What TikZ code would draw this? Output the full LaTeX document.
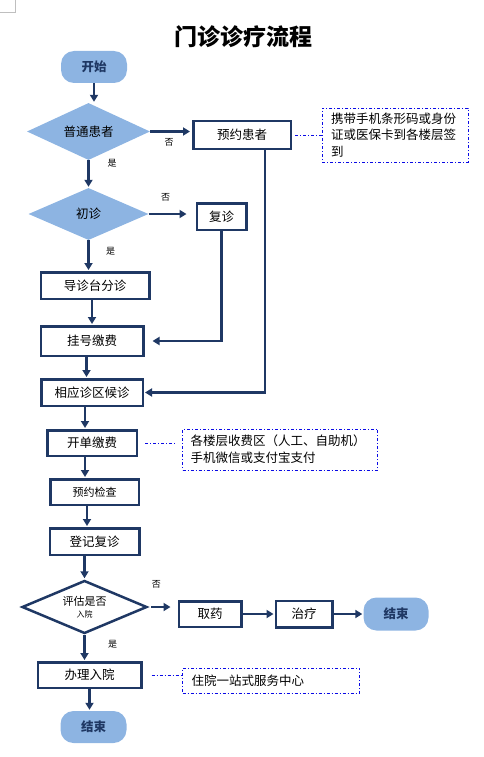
\documentclass[tikz,border=0pt]{standalone}
\usepackage{fontspec}
\newfontfamily\cjk{Noto Sans CJK SC}
\usetikzlibrary{arrows.meta,positioning,shapes.geometric}

\definecolor{navy}{RGB}{31,56,100}
\definecolor{lightblue}{RGB}{141,180,226}
\definecolor{noteblue}{RGB}{10,10,230}

\begin{document}
\begin{tikzpicture}[%
	x=1pt,y=-1pt,on grid,>={Triangle[length=7pt,width=8pt]},
	every node/.style={font=\cjk\fontsize{12.5}{15}\selectfont},
	term/.style={fill=lightblue,rounded corners=13pt,minimum width=66pt,minimum height=32pt,
		inner sep=0pt,font=\cjk\bfseries\fontsize{12.5}{15}\selectfont,text=navy},
	proc/.style={draw=navy,line width=2.5pt,inner sep=0pt},
	decision/.style={diamond,aspect=2,inner sep=0pt},
	note/.style={draw=noteblue,line width=0.9pt,dash pattern=on 3pt off 2pt on 1pt off 2pt,
		align=left,inner ysep=0pt},
	lbl/.style={font=\cjk\fontsize{9}{10}\selectfont,inner sep=1pt},
	flow/.style={->,draw=navy,line width=2.5pt,shorten >=1pt},
	link/.style={draw=noteblue,line width=0.9pt,dash pattern=on 3pt off 2pt on 1pt off 2pt}]

	\useasboundingbox (0,0) rectangle (483,757);
	\draw[gray!50,line width=0.6pt] (15,0) -- (15,12) -- (0,12);

	\node (TTL) at (243,37) {\bfseries\fontsize{23}{26}\selectfont 门诊诊疗流程};

	% main column
	\node[term]		(KS)	at (94,67)	{开始};
	\node[decision,fill=lightblue,minimum width=123pt,minimum height=57pt]	(PT)
		[below left=64.5pt and 5.5pt of KS]	{普通患者};
	\node[decision,fill=lightblue,minimum width=120pt,minimum height=52pt]	(CZ)
		[below=82.5pt of PT]	{初诊};
	\node[proc,minimum width=108.5pt,minimum height=26.5pt]	(DZ)	[below right=71.5pt and 6.5pt of CZ]	{导诊台分诊};
	\node[proc,minimum width=102.5pt,minimum height=29.5pt]	(GH)	[below left=55.5pt and 3pt of DZ]	{挂号缴费};
	\node[proc,minimum width=101.5pt,minimum height=26.5pt]	(XY)	[below=51.5pt of GH]	{相应诊区候诊};
	\node[proc,minimum width=89.5pt,minimum height=25.5pt]	(KD)	[below=50.5pt of XY]	{开单缴费};
	\node[proc,minimum width=88.5pt,minimum height=25.5pt,font=\cjk\fontsize{11}{13}\selectfont]	(YJ)
		[below right=49pt and 2.5pt of KD]	{预约检查};
	\node[proc,minimum width=89.5pt,minimum height=26.5pt]	(DJ)	[below=49.5pt of YJ]	{登记复诊};
	\node[decision,draw=navy,line width=2.5pt,minimum width=125pt,minimum height=53pt,align=center,
		font=\cjk\fontsize{11}{12}\selectfont]	(PG)	[below left=65.5pt and 10pt of DJ]
		{评估是否\\{\fontsize{8}{9}\selectfont 入院}};
	\node[proc,minimum width=103.5pt,minimum height=25.5pt]	(BL)	[below right=68pt and 5pt of PG]	{办理入院};
	\node[term]		(JS)	[below right=52pt and 4pt of BL]	{结束};

	% right side
	\node[proc,minimum width=97.5pt,minimum height=27.5pt]	(YY)	[below right=3.5pt and 153.5pt of PT]	{预约患者};
	\node[proc,minimum width=49.5pt,minimum height=26.5pt]	(FZ)	[below right=2.5pt and 133pt of CZ]	{复诊};
	\node[proc,minimum width=62.5pt,minimum height=25.5pt]	(QY)	[below right=7pt and 125.5pt of PG]	{取药};
	\node[proc,minimum width=56.5pt,minimum height=26.5pt]	(ZL)	[right=94pt of QY]	{治疗};
	\node[term,minimum width=65pt,minimum height=33pt]	(JS2)	[right=92pt of ZL]	{结束};

	% notes
	\node[note,text width=128pt,inner xsep=9pt,minimum height=54pt,font=\cjk\fontsize{12.5}{16.5}\selectfont]	(N1)
		[right=153pt of YY]	{携带手机条形码或身份\\证或医保卡到各楼层签\\到};
	\node[note,text width=179pt,inner xsep=8pt,minimum height=41pt,font=\cjk\fontsize{12.5}{17}\selectfont]	(N2)
		[below right=6.5pt and 188pt of KD]	{各楼层收费区（人工、自助机）\\手机微信或支付宝支付};
	\node[note,text width=159pt,inner xsep=9pt,minimum height=25pt]	(N3)
		[below right=5.5pt and 181.5pt of BL]	{住院一站式服务中心};

	% connectors
	\draw[flow] (KS.south) -- (KS.south |- PT.north);
	\draw[flow] (PT.south) -- node[lbl,pos=0.1,xshift=23.5pt] {是} (PT.south |- CZ.north);
	\draw[flow,shorten >=2pt] (PT.east) -- node[lbl,pos=0.45,yshift=-10.5pt] {否} (PT.east -| YY.west);
	\draw[flow,shorten >=9pt] (CZ.east) -- node[lbl,pos=0.36,yshift=17pt] {否} (CZ.east -| FZ.west);
	\draw[flow] (CZ.south) -- node[lbl,pos=0.35,xshift=22pt] {是} (CZ.south |- DZ.north);
	\draw[flow] (GH.north |- DZ.south) -- (GH.north);
	\draw[flow] ([xshift=-5.5pt]GH.south) -- ([xshift=-5.5pt]GH.south |- XY.north);
	\draw[flow,shorten >=8pt] (FZ.south) |- (GH.east);
	\draw[flow] ([xshift=23pt]YY.south) |- (XY.east);
	\draw[flow] ([xshift=-7pt]XY.south) -- ([xshift=-7pt]XY.south |- KD.north);
	\draw[flow] ([xshift=-7pt]KD.south) -- ([xshift=-7pt]KD.south |- YJ.north);
	\draw[flow] ([xshift=-7.5pt]YJ.south) -- ([xshift=-7.5pt]YJ.south |- DJ.north);
	\draw[flow] (PG.north |- DJ.south) -- (PG.north);
	\draw[flow,shorten <=3pt,shorten >=7pt] (PG.east) -- node[lbl,pos=0.28,yshift=23pt] {否} (PG.east -| QY.west);
	\draw[flow] (QY.east) -- (QY.east -| ZL.west);
	\draw[flow] (ZL.east) -- (ZL.east -| JS2.west);
	\draw[flow] (PG.south) -- node[lbl,pos=0.38,xshift=28pt] {是} (PG.south |- BL.north);
	\draw[flow] (BL.south) -- (BL.south |- JS.north);

	\draw[link,shorten <=3pt] (YY.east) -- (YY.east -| N1.west);
	\draw[link,shorten <=7pt,shorten >=7pt] (KD.east) -- (KD.east -| N2.west);
	\draw[link,shorten <=9pt] (BL.east) -- (BL.east -| N3.west);

\end{tikzpicture}
\end{document}
